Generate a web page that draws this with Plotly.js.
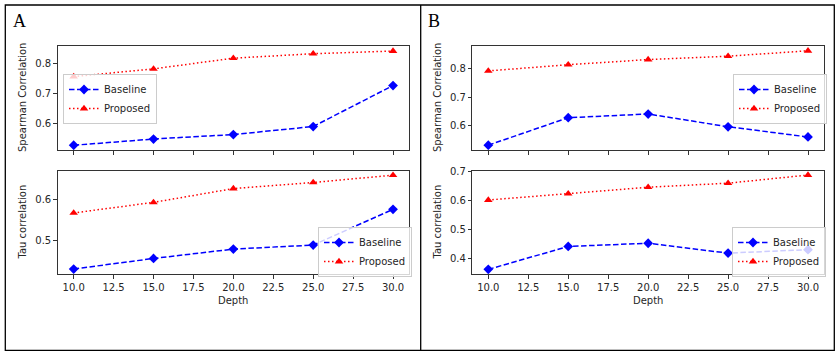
<!DOCTYPE html>
<html>
<head>
<meta charset="utf-8">
<script src="https://cdn.plot.ly/plotly-3.0.1.min.js"></script>
<style>html,body{margin:0;padding:0;background:#fff;}#chart{width:838px;height:356px;}</style>
</head>
<body>
<div id="chart"></div>
<script>
// ---- data ----
const depth = [10, 15, 20, 25, 30];
const xTicks = [10, 12.5, 15, 17.5, 20, 22.5, 25, 27.5, 30];
const seriesNames = ["Baseline", "Proposed"];
const panelLabels = ["A", "B"];
const yTitles = ["Spearman Correlation", "Tau correlation"];
const xTitle = "Depth";

const A_spearman_baseline = [0.526, 0.547, 0.562, 0.589, 0.727];
const A_spearman_proposed = [0.757, 0.783, 0.819, 0.834, 0.843];
const A_tau_baseline = [0.430, 0.456, 0.479, 0.489, 0.577];
const A_tau_proposed = [0.568, 0.594, 0.628, 0.643, 0.661];
const B_spearman_baseline = [0.531, 0.628, 0.641, 0.596, 0.560];
const B_spearman_proposed = [0.793, 0.815, 0.833, 0.845, 0.864];
const B_tau_baseline = [0.363, 0.442, 0.453, 0.419, 0.431];
const B_tau_proposed = [0.602, 0.624, 0.646, 0.660, 0.688];

// ---- geometry helpers ----
const W = 838, H = 356;
const px = v => v / W;
const py = v => 1 - v / H;

const FONT = "DejaVu Sans, sans-serif";
const TXT = "#262626";

function baseTrace(y, xa, ya, legend, name) {
  const isBase = name === "Baseline";
  return {
    x: depth, y: y, xaxis: xa, yaxis: ya, legend: legend, name: name,
    type: "scatter", mode: "lines+markers",
    line: isBase ? {color: "#0000ff", width: 1.5, dash: "5.5px,2.5px"}
                 : {color: "#ff0000", width: 1.5, dash: "1.5px,2.5px"},
    marker: isBase ? {symbol: "diamond", size: 7.5, color: "#0000ff"}
                   : {symbol: "triangle-up", size: 7.5, color: "#ff0000"}
  };
}

const data = [
  baseTrace(A_spearman_baseline, "x", "y", "legend", seriesNames[0]),
  baseTrace(A_spearman_proposed, "x", "y", "legend", seriesNames[1]),
  baseTrace(A_tau_baseline, "x2", "y2", "legend2", seriesNames[0]),
  baseTrace(A_tau_proposed, "x2", "y2", "legend2", seriesNames[1]),
  baseTrace(B_spearman_baseline, "x3", "y3", "legend3", seriesNames[0]),
  baseTrace(B_spearman_proposed, "x3", "y3", "legend3", seriesNames[1]),
  baseTrace(B_tau_baseline, "x4", "y4", "legend4", seriesNames[0]),
  baseTrace(B_tau_proposed, "x4", "y4", "legend4", seriesNames[1])
];

const xA = [px(57.7), px(409)];
const xB = [px(472.3), px(824)];
const yTop = [py(150), py(45.7)];
const yBot = [py(274.3), py(170.7)];

function xax(domain, anchor, labels) {
  return {
    domain: domain, anchor: anchor, range: [9, 31],
    tickvals: xTicks, tickformat: ".1f", showticklabels: labels,
    ticks: "outside", ticklen: 3.5, tickwidth: 1, tickcolor: "#333",
    showline: true, mirror: true, linecolor: "#333", linewidth: 1,
    showgrid: false, zeroline: false,
    tickfont: {family: FONT, size: 10, color: TXT}
  };
}
function yax(domain, anchor, range) {
  return {
    domain: domain, anchor: anchor, range: range,
    dtick: 0.1, tick0: 0, tickformat: ".1f",
    ticks: "outside", ticklen: 3.5, tickwidth: 1, tickcolor: "#333",
    showline: true, mirror: true, linecolor: "#333", linewidth: 1,
    showgrid: false, zeroline: false,
    tickfont: {family: FONT, size: 10, color: TXT}
  };
}

function leg(x, y) {
  return {
    x: px(x), y: py(y), xanchor: "left", yanchor: "middle",
    bgcolor: "rgba(255,255,255,0.8)", bordercolor: "#cccccc", borderwidth: 1,
    font: {family: FONT, size: 10, color: TXT}, itemwidth: 30,
    tracegroupgap: 0
  };
}

const ann = [];
function text(t, x, y, opts) {
  ann.push(Object.assign({text: t, x: px(x), y: py(y), xref: "paper", yref: "paper",
    showarrow: false, xanchor: "center", yanchor: "middle",
    font: {family: FONT, size: 10, color: TXT}}, opts || {}));
}
text(panelLabels[0], 11, 21, {xanchor: "left", font: {family: "Liberation Serif, serif", size: 18, color: "#000"}});
text(panelLabels[1], 426, 21, {xanchor: "left", font: {family: "Liberation Serif, serif", size: 18, color: "#000"}});
text(yTitles[0], 22, 98, {textangle: -90});
text(yTitles[1], 22, 222.5, {textangle: -90});
text(yTitles[0], 437, 98, {textangle: -90});
text(yTitles[1], 437, 222.5, {textangle: -90});
text(xTitle, 233, 300);
text(xTitle, 648, 300);

const lineStyle = {color: "#000", width: 1.3};
const shapes = [
  {type: "rect", xref: "paper", yref: "paper", x0: px(5.3), x1: px(834.3), y0: py(350.3), y1: py(5), line: lineStyle},
  {type: "line", xref: "paper", yref: "paper", x0: px(420.7), x1: px(420.7), y0: py(350.3), y1: py(5), line: lineStyle}
];

const layout = {
  width: W, height: H,
  margin: {l: 0, r: 0, t: 0, b: 0},
  paper_bgcolor: "#fff", plot_bgcolor: "#fff",
  showlegend: true,
  xaxis: xax(xA, "y", false),
  yaxis: yax(yTop, "x", [0.510, 0.861]),
  xaxis2: xax(xA, "y2", true),
  yaxis2: yax(yBot, "x2", [0.417, 0.672]),
  xaxis3: xax(xB, "y3", false),
  yaxis3: yax(yTop, "x3", [0.514, 0.882]),
  xaxis4: xax(xB, "y4", true),
  yaxis4: yax(yBot, "x4", [0.346, 0.703]),
  legend: leg(63, 99),
  legend2: leg(318, 252),
  legend3: leg(733, 99),
  legend4: leg(732, 252),
  annotations: ann,
  shapes: shapes
};

Plotly.newPlot("chart", data, layout, {displayModeBar: false, staticPlot: true});
</script>
</body>
</html>
